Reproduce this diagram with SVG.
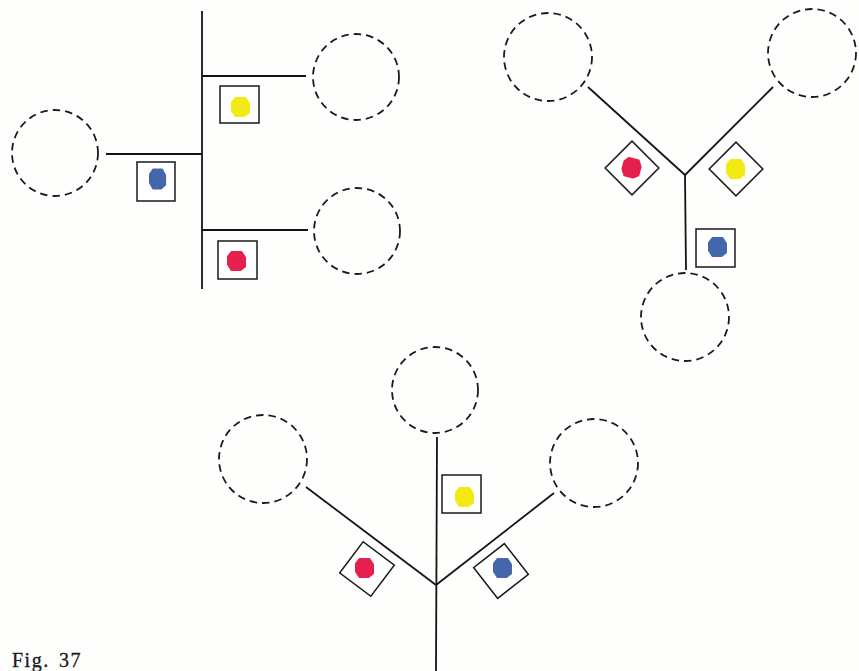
<svg xmlns="http://www.w3.org/2000/svg" xmlns:xlink="http://www.w3.org/1999/xlink" width="859" height="671" viewBox="0 0 859 671">
<style>
.c{fill:none;stroke:#1a1a1a;stroke-width:1.8;stroke-dasharray:7.5 5}
.l{stroke:#141414;stroke-width:1.8;fill:none}
.b{fill:#fff;stroke:#1a1a1a;stroke-width:1.5}
.y{fill:#f2ea12;stroke:#f2ea12}
.r{fill:#e6204c;stroke:#e6204c}
.u{fill:#4466ab;stroke:#4466ab}
.cap{font-family:"Liberation Serif",serif;font-size:20px;letter-spacing:1.5px;fill:#1a1a1a;stroke:#1a1a1a;stroke-width:0.3}
</style>
<defs>
<path id="blob" d="M-5.5,-9 L4.5,-9 L8,-3.5 L8,5.5 L3.5,9 L-5.5,9 L-9,3.5 L-9,-4.5 Z" stroke-width="2" stroke-linejoin="round"/>
</defs>
<rect width="859" height="671" fill="#fefefc"/>
<g id="connectors">
<line class="l" x1="202" y1="11" x2="202" y2="289"/>
<line class="l" x1="202" y1="76" x2="306" y2="76"/>
<line class="l" x1="106" y1="154" x2="202" y2="154"/>
<line class="l" x1="202" y1="230" x2="308" y2="230"/>
<line class="l" x1="588" y1="87" x2="685" y2="175"/>
<line class="l" x1="773" y1="87" x2="685" y2="175"/>
<line class="l" x1="685" y1="175" x2="686" y2="270"/>
<line class="l" x1="437" y1="437" x2="436" y2="671"/>
<line class="l" x1="306" y1="487" x2="436" y2="585"/>
<line class="l" x1="554" y1="493" x2="436" y2="585"/>
</g>
<g id="tl-circle-right-top"><circle class="c" cx="356" cy="77" r="43"/></g>
<g id="tl-circle-left"><circle class="c" cx="55" cy="153" r="43"/></g>
<g id="tl-circle-right-bottom"><circle class="c" cx="357" cy="231" r="43"/></g>
<g id="tl-yellow"><rect class="b" x="220" y="86" width="39" height="37"/><use href="#blob" class="y" transform="translate(241,107)"/></g>
<g id="tl-blue"><rect class="b" x="137" y="162" width="38" height="39"/><use href="#blob" class="u" transform="translate(158,179) scale(0.9,1.05)"/></g>
<g id="tl-red"><rect class="b" x="218" y="241" width="39" height="38"/><use href="#blob" class="r" transform="translate(237,261)"/></g>
<g id="tr-circle-left"><circle class="c" cx="548" cy="57" r="44"/></g>
<g id="tr-circle-right"><circle class="c" cx="812" cy="53" r="44"/></g>
<g id="tr-circle-bottom"><circle class="c" cx="685" cy="317" r="44"/></g>
<g id="tr-red" transform="translate(632,168)"><rect class="b" x="-19" y="-19" width="38" height="38" transform="rotate(45)"/><use href="#blob" class="r" transform="rotate(15)"/></g>
<g id="tr-yellow" transform="translate(736,169)"><rect class="b" x="-19" y="-19" width="38" height="38" transform="rotate(45)"/><use href="#blob" class="y"/></g>
<g id="tr-blue"><rect class="b" x="696" y="229" width="39" height="38"/><use href="#blob" class="u" transform="translate(718,247)"/></g>
<g id="b-circle-top"><circle class="c" cx="435" cy="390" r="43"/></g>
<g id="b-circle-left"><circle class="c" cx="263" cy="459" r="44"/></g>
<g id="b-circle-right"><circle class="c" cx="594" cy="463" r="44"/></g>
<g id="b-yellow"><rect class="b" x="442" y="475" width="39" height="38"/><use href="#blob" class="y" transform="translate(465,497)"/></g>
<g id="b-red" transform="translate(367,569)"><rect class="b" x="-19.5" y="-19.5" width="39" height="39" transform="rotate(37)"/><use href="#blob" class="r" transform="translate(-2,-1)"/></g>
<g id="b-blue" transform="translate(501,571)"><rect class="b" x="-19.5" y="-19.5" width="39" height="39" transform="rotate(-38)"/><use href="#blob" class="u" transform="translate(2,-3)"/></g>
<text class="cap" x="12" y="667">Fig.<tspan x="59">37</tspan></text>
</svg>
